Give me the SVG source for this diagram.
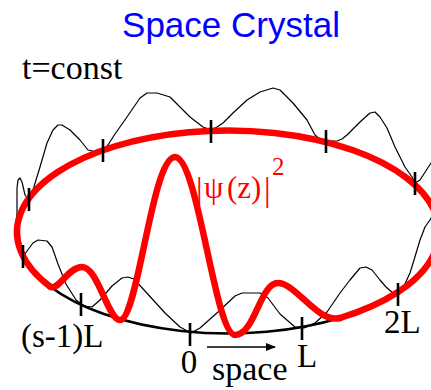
<svg xmlns="http://www.w3.org/2000/svg" width="431" height="390" viewBox="0 0 431 390">
<style>
.serif{font-family:"Liberation Serif","Times New Roman",serif;}
.tick{stroke:#000;stroke-width:2.6;fill:none;}
.red{stroke:#ff0000;stroke-width:6.5;fill:none;stroke-linecap:round;stroke-linejoin:round;}
</style>
<defs>
<marker id="ah" viewBox="0 0 10 8" refX="9" refY="4" markerWidth="10" markerHeight="8" markerUnits="userSpaceOnUse" orient="auto">
<path d="M0,0 L10,4 L0,8 Z" fill="#000"/>
</marker>
</defs>
<rect width="431" height="390" fill="#fff"/>
<text id="title" x="231" y="37" font-family="Liberation Sans, Arial, sans-serif" font-size="35" fill="#0000ff" text-anchor="middle">Space Crystal</text>
<text id="tconst" class="serif" x="22" y="79" font-size="34" fill="#000">t=const</text>
<g id="density-ring">
<path d="M434,212 L430,220 L425,227 L420,240 L414,260 L410,273 L404,286 L399,292 L393,293 L386,287 L380,280 L372,270 L366,267 L360,268 L350,280 L340,293 L327,312 L315,323 L304,328 L295,327 L280,314 L268,298 L260,293 L242,293 L235,296 L218,312 L200,328 L191,333 L180,327 L165,313 L145,291 L134,279 L128,277 L122,278 L112,286 L100,300 L92,307 L84,306 L76,300 L66,284 L58,264 L52,247 L47,241 L38,240 L33,243 L27,251 L23,257 L19,246 L16,230 L17,213 L17,188 L18,180 L20,178 L22,182 L25,195 L29,200 L33,190 L40,167 L47,143 L53,130 L58,125 L62,125 L70,130 L80,140 L88,150 L97,152 L103,150 L108,145 L115,134 L127,117 L140,98 L147,93 L157,93 L170,97 L180,107 L190,117 L203,127 L211,130 L217,127 L223,123 L233,113 L247,100 L260,92 L273,88 L280,90 L293,103 L307,120 L315,135 L321,140 L327,141 L337,141 L342,139 L347,135 L360,122 L370,113 L375,112 L380,117 L387,128 L395,147 L405,167 L412,177 L415,183 L420,180 L431,163 L434,158" fill="none" stroke="#000" stroke-width="1.2" stroke-linejoin="round"/>
</g>
<g id="ring">
<path d="M50,286.5 A211,101.5 0 0 0 340,318" fill="none" stroke="#000" stroke-width="2.6"/>
<path class="red" d="M340,318 A211,101.5 0 1 0 50,286.5"/>
<path class="red" d="M50,286.5 C58,292 68,267 82,267 C98,267 108,320 120,320 C138,320 152,157 175,157 C198,157 215,335 235,335 C255,335 260,283 278,283 C296,283 318,324 340,318"/>
</g>
<g id="ticks">
<line class="tick" x1="211" y1="120" x2="211" y2="143"/>
<line class="tick" x1="326" y1="130" x2="326" y2="153"/>
<line class="tick" x1="415" y1="172" x2="415" y2="195"/>
<line class="tick" x1="398" y1="283" x2="398" y2="306"/>
<line class="tick" x1="302" y1="317" x2="302" y2="340"/>
<line class="tick" x1="190" y1="323" x2="190" y2="346"/>
<line class="tick" x1="81" y1="293" x2="81" y2="316"/>
<line class="tick" x1="23" y1="245" x2="23" y2="268"/>
<line class="tick" x1="29" y1="188" x2="29" y2="211"/>
<line class="tick" x1="103" y1="139" x2="103" y2="162"/>
</g>
<g id="labels" class="serif" fill="#000">
<text x="21" y="347" font-size="33">(s-1)L</text>
<text x="189" y="373" font-size="33" text-anchor="middle">0</text>
<text x="297" y="367" font-size="33">L</text>
<text x="384" y="333" font-size="33">2L</text>
<text x="212" y="380" font-size="34">space</text>
</g>
<g id="psi" class="serif" fill="#ff0000">
<text x="196" y="201" font-size="33">|</text>
<text x="204" y="198" font-size="31">ψ</text>
<text x="227" y="198" font-size="31">(z)</text>
<text x="264" y="201" font-size="33">|</text>
<text x="272" y="175" font-size="25">2</text>
</g>
<g id="connectors">
<line x1="207" y1="347" x2="275" y2="347" stroke="#000" stroke-width="1.5" marker-end="url(#ah)"/>
</g>
</svg>
